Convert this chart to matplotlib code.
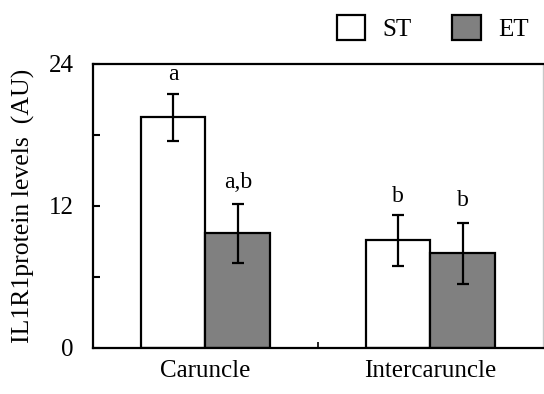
import numpy as np
import matplotlib.pyplot as plt
from matplotlib.ticker import MultipleLocator, FixedLocator

plt.rcParams['font.family'] = ['Liberation Serif', 'DejaVu Serif']

tissues = ['Caruncle', 'Intercaruncle']
st_mean = [19.5, 9.1]
st_err = [2.0, 2.15]
et_mean = [9.7, 8.0]
et_err = [2.5, 2.6]
st_letters = ['a', 'b']
et_letters = ['a,b', 'b']

x = np.arange(len(tissues))
w = 0.288

fig = plt.figure(figsize=(5.44, 3.94), dpi=100)
ax = fig.add_axes([0.171, 0.1168, 0.827, 0.7208])

bar_kw = dict(width=w, edgecolor='black', linewidth=1.6,
              error_kw=dict(ecolor='black', elinewidth=1.6, capsize=4.5, capthick=1.6))
b1 = ax.bar(x - w / 2, st_mean, yerr=st_err, color='white', label='ST', **bar_kw)
b2 = ax.bar(x + w / 2, et_mean, yerr=et_err, color='#808080', label='ET', **bar_kw)

# significance letters above the error bars
for xi, m, e, s in zip(x - w / 2, st_mean, st_err, st_letters):
    ax.annotate(s, (xi, m + e), xytext=(0, 6), textcoords='offset points',
                ha='center', va='bottom', fontsize=17)
for xi, m, e, s in zip(x + w / 2, et_mean, et_err, et_letters):
    ax.annotate(s, (xi, m + e), xytext=(0, 8), textcoords='offset points',
                ha='center', va='bottom', fontsize=17)

ax.set_xlim(-0.5, 1.5)
ax.set_ylim(0, 24)
ax.set_yticks([0, 12, 24])
ax.yaxis.set_minor_locator(MultipleLocator(6))
ax.set_xticks(x)
ax.set_xticklabels(tissues)
ax.xaxis.set_minor_locator(FixedLocator([0.5]))
ax.tick_params(axis='y', which='both', direction='in', length=5, width=1.5,
               labelsize=18, pad=14)
ax.tick_params(axis='x', which='major', length=0, labelsize=18, pad=9)
ax.tick_params(axis='x', which='minor', direction='in', length=4, width=1.2)
ax.set_ylabel('IL1R1protein levels  (AU)', fontsize=18.5, labelpad=10)

for side in ['left', 'bottom', 'top']:
    ax.spines[side].set_linewidth(1.6)
ax.spines['right'].set_color('#c8c8c8')
ax.spines['right'].set_linewidth(1.0)

fig.legend(handles=[b1, b2], loc='upper right', bbox_to_anchor=(1.0, 1.0),
           ncol=2, frameon=False, fontsize=18, handlelength=1.15, handleheight=1.15,
           columnspacing=1.6, handletextpad=0.7, borderaxespad=0.2)

fig.savefig('out.png', dpi=100)
